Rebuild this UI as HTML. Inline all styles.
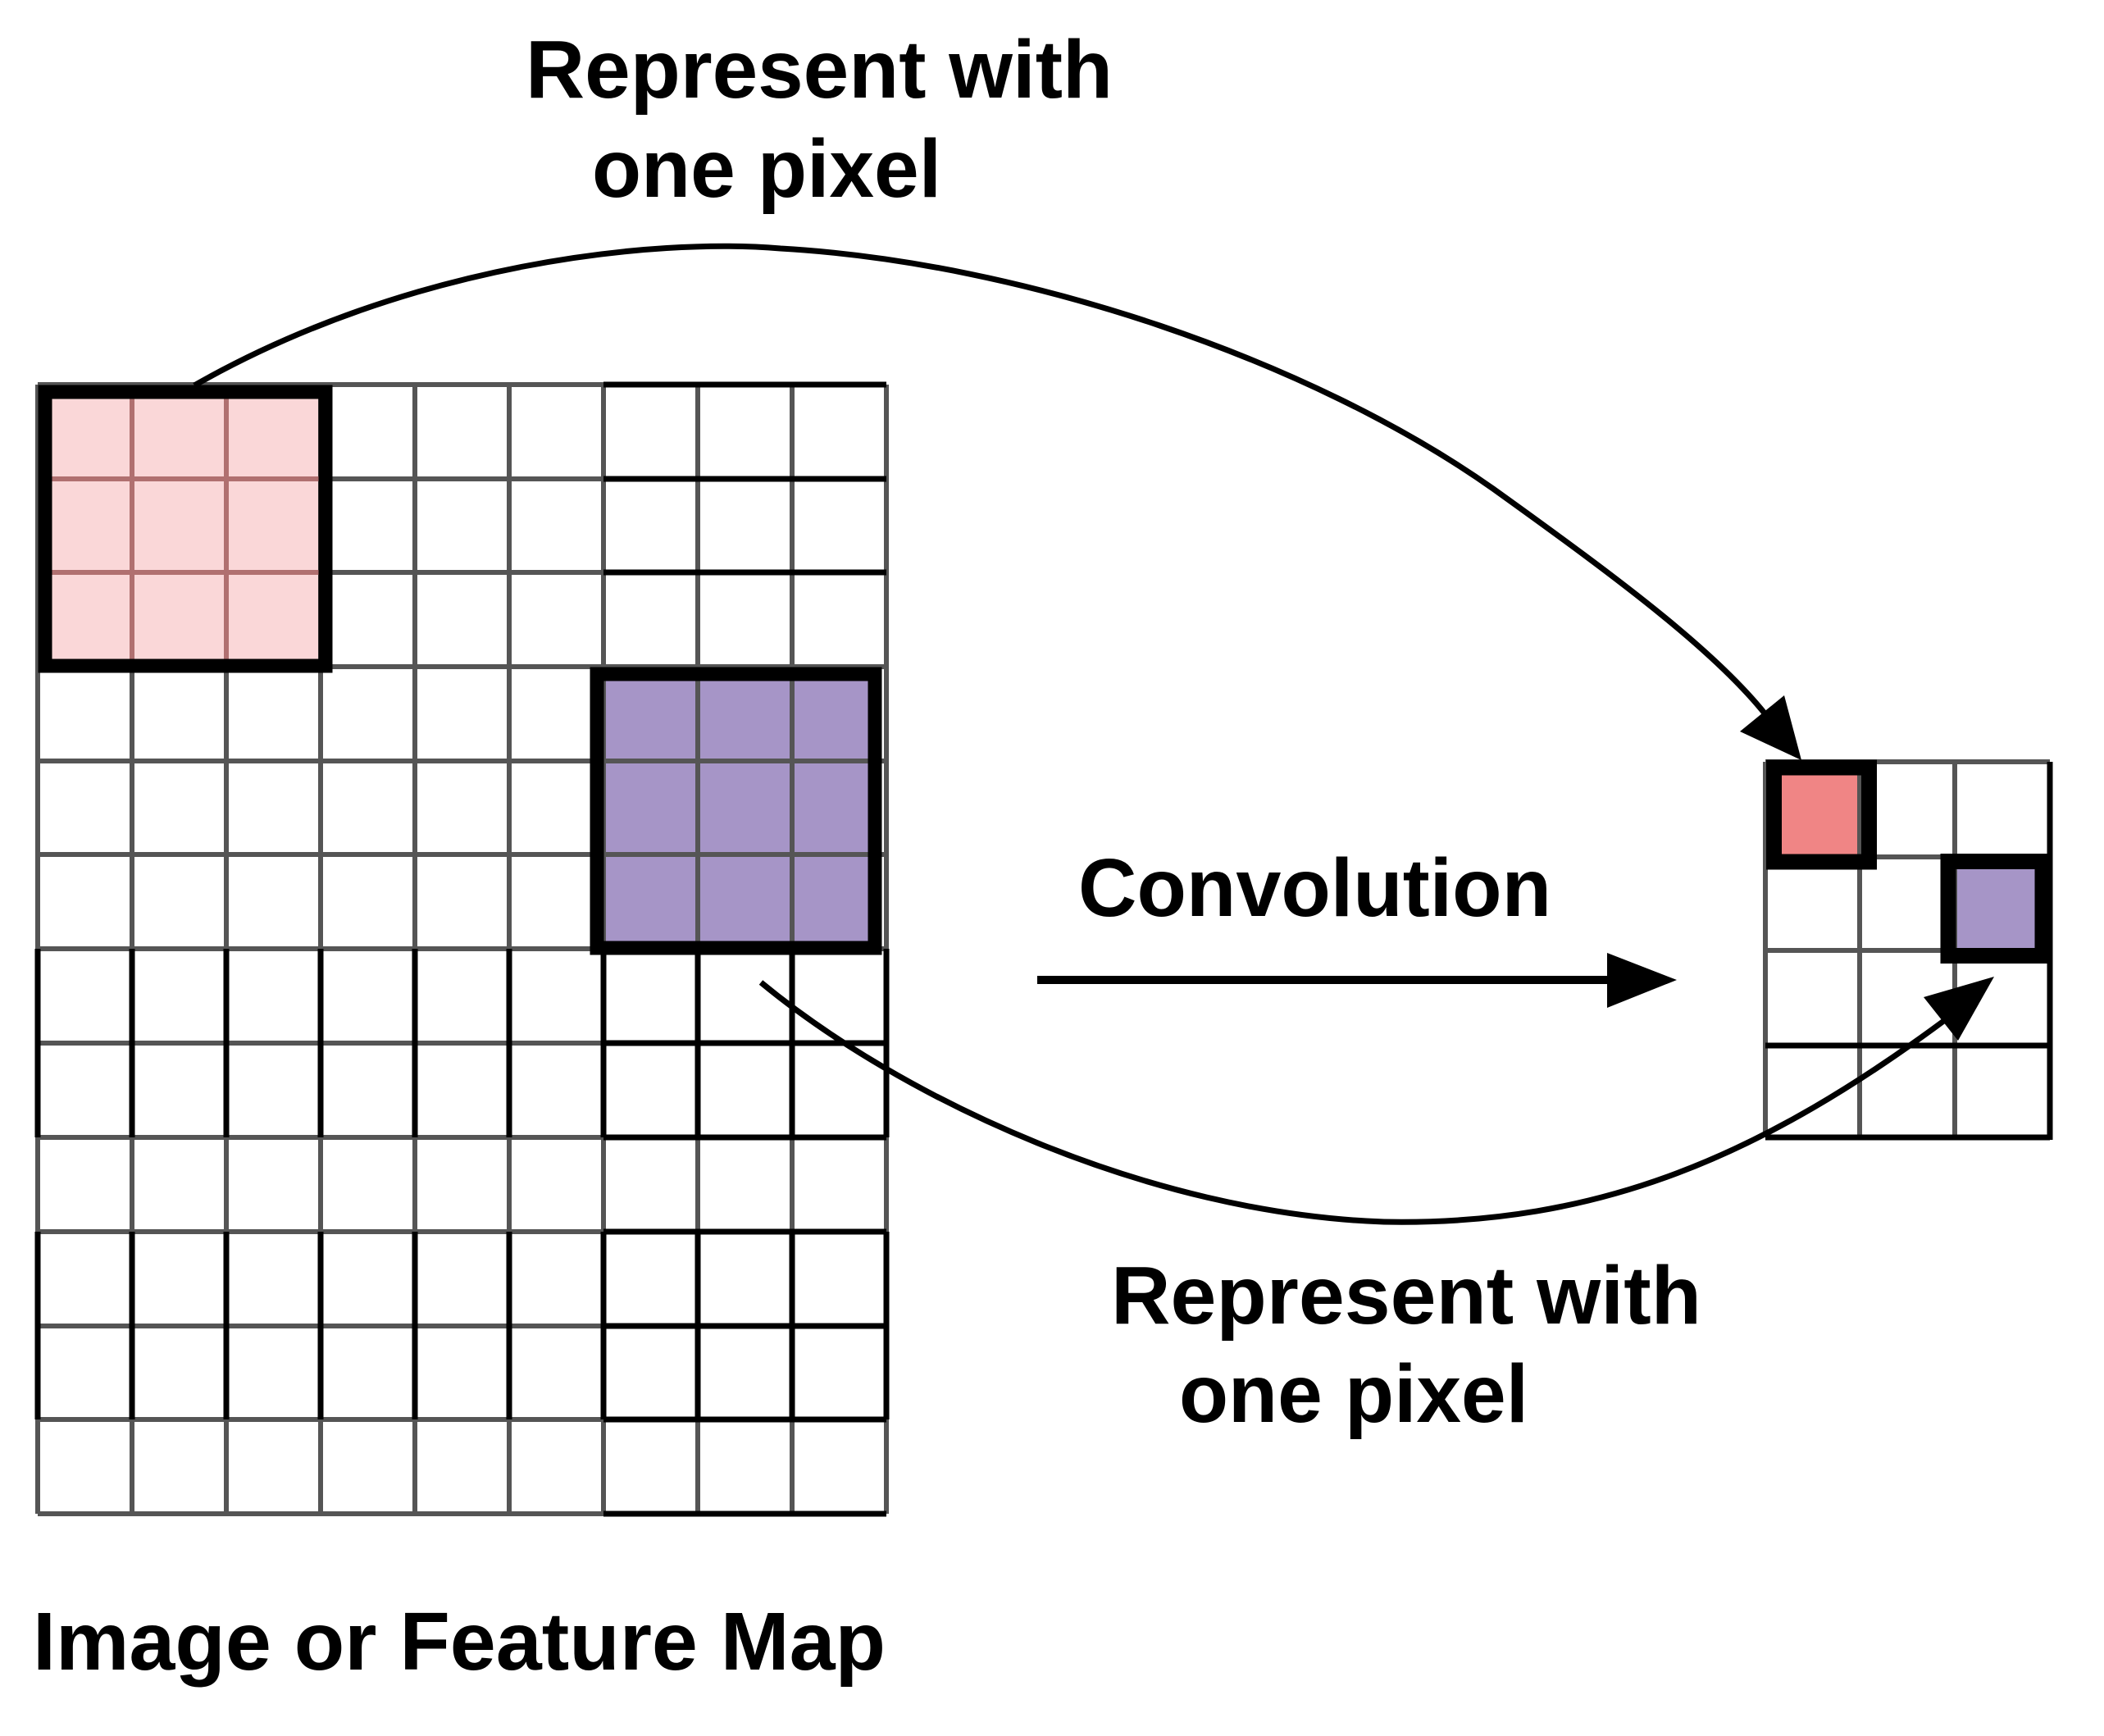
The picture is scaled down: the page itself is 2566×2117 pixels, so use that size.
<!DOCTYPE html>
<html><head><meta charset="utf-8"><style>html,body{margin:0;padding:0;background:#fff}svg{display:block}</style></head>
<body>
<svg width="2566" height="2117" viewBox="0 0 2566 2117" xmlns="http://www.w3.org/2000/svg">
<rect width="2566" height="2117" fill="#fff"/>
<rect x="55" y="478" width="342" height="334" fill="#FAD7D8"/>
<rect x="728" y="822" width="339" height="334" fill="#A695C7"/>
<g stroke="#555" stroke-width="6" fill="none">
<path d="M46 469V1846M161 469V1846M276 469V1846M391 469V1846M506 469V1846M621 469V1846M736 469V1846M851 469V1846M966 469V1846M1081 469V1846"/>
<path d="M46 469H1081M46 584H1081M46 698H1081M46 813H1081M46 928H1081M46 1042H1081M46 1157H1081M46 1272H1081M46 1387H1081M46 1502H1081M46 1617H1081M46 1731H1081M46 1846H1081"/>
</g>
<g stroke="#B07070" stroke-width="6">
<path d="M161 478V812M276 478V812M55 584H397M55 698H397"/>
</g>
<g stroke="#000" stroke-width="7" fill="none">
<path d="M736 469H1081M736 584H1081M736 698H1081"/>
<path d="M46 1157V1387M161 1157V1387M276 1157V1387M391 1157V1387M506 1157V1387M621 1157V1387M736 1157V1387M851 1157V1387M966 1157V1387M1081 1157V1387"/>
<path d="M736 1272H1081M736 1387H1081"/>
<path d="M46 1502V1731M161 1502V1731M276 1502V1731M391 1502V1731M506 1502V1731M621 1502V1731M736 1502V1731M851 1502V1731M966 1502V1731M1081 1502V1731"/>
<path d="M736 1502H1081M736 1617H1081M736 1731H1081M736 1846H1081"/>
</g>
<rect x="55" y="478" width="342" height="334" fill="none" stroke="#000" stroke-width="17"/>
<rect x="728" y="822" width="339" height="334" fill="none" stroke="#000" stroke-width="17"/>
<rect x="2163" y="936" width="116" height="115" fill="#F08585"/>
<rect x="2376" y="1051" width="115" height="114" fill="#A695C7"/>
<g stroke="#555" stroke-width="6" fill="none">
<path d="M2153 929V1387M2268 929V1387M2384 929V1387M2153 929H2500M2153 1045H2500M2153 1159H2500"/>
</g>
<g stroke="#000" stroke-width="7" fill="none">
<path d="M2500 929V1390M2153 1387H2500M2153 1275H2500"/>
</g>
<rect x="2163.5" y="936" width="116" height="115" fill="none" stroke="#000" stroke-width="19"/>
<rect x="2376" y="1050.5" width="115" height="115" fill="none" stroke="#000" stroke-width="19"/>
<line x1="1265" y1="1195" x2="1965" y2="1195" stroke="#000" stroke-width="10"/>
<polygon points="1960,1162 2045,1195 1960,1229" fill="#000"/>
<path d="M237 470 C 500 320, 800 290, 952 303 C 1250 320, 1600 440, 1821 596 C 1980 710, 2100 800, 2160 880" fill="none" stroke="#000" stroke-width="7"/>
<polygon points="2197,927 2122,892 2176,848" fill="#000"/>
<path d="M928 1198 C 1100 1340, 1400 1480, 1688 1490 C 1950 1495, 2150 1410, 2380 1238" fill="none" stroke="#000" stroke-width="7"/>
<polygon points="2432,1191 2346,1216 2388,1269" fill="#000"/>
<g font-family="'Liberation Sans', Arial, sans-serif" font-weight="bold" font-size="100" fill="#000">
<text x="641" y="119" textLength="716" lengthAdjust="spacingAndGlyphs">Represent with</text>
<text x="722" y="240" textLength="426" lengthAdjust="spacingAndGlyphs">one pixel</text>
<text x="1315" y="1117" textLength="577" lengthAdjust="spacingAndGlyphs">Convolution</text>
<text x="1355" y="1614" textLength="720" lengthAdjust="spacingAndGlyphs">Represent with</text>
<text x="1438" y="1734" textLength="426" lengthAdjust="spacingAndGlyphs">one pixel</text>
<text x="40" y="2036" textLength="1040" lengthAdjust="spacingAndGlyphs">Image or Feature Map</text>
</g>
</svg>
</body></html>
